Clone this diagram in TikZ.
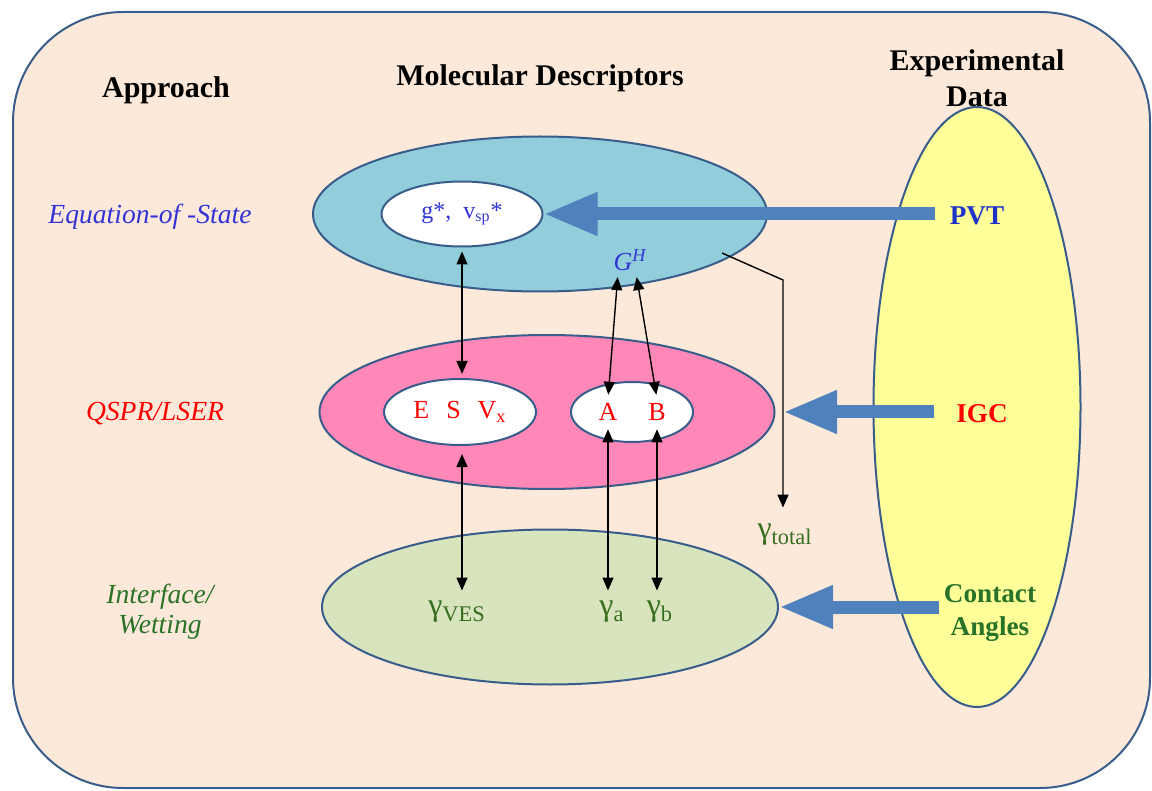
\documentclass[tikz,border=0pt]{standalone}
\usepackage{fontspec}
\setmainfont{Liberation Serif}
\usepackage{tikz}
\usetikzlibrary{shapes.geometric,arrows.meta,calc}
\definecolor{peach}{RGB}{253,233,218}
\definecolor{border}{RGB}{56,93,138}
\definecolor{eosfill}{RGB}{146,205,220}
\definecolor{qsprfill}{RGB}{255,136,184}
\definecolor{wetfill}{RGB}{215,228,189}
\definecolor{expfill}{RGB}{255,255,153}
\definecolor{arrowblue}{RGB}{79,129,189}
\definecolor{eosblue}{RGB}{51,51,214}
\definecolor{pvtblue}{RGB}{30,50,200}
\definecolor{wetgreen}{RGB}{40,115,40}
\definecolor{gammagreen}{RGB}{55,110,30}
\tikzset{
every picture/.style={
line width=0.7pt
},
txt/.style={font=\fontsize{13}{15}\selectfont, inner sep=1pt},
gamma/.style={font=\fontsize{16}{18}\selectfont, text=gammagreen, inner sep=1pt},
header/.style={font=\fontsize{15}{18}\selectfont\bfseries, align=center, inner sep=1pt},
approach/.style={font=\fontsize{13.8}{15}\selectfont\itshape, align=center, inner sep=1pt},
datatxt/.style={font=\fontsize{13.6}{16.5}\selectfont\bfseries, align=center, inner sep=1pt},
bigell/.style={ellipse, draw=border, line width=1pt, inner sep=0pt},
innerell/.style={ellipse, draw=border, fill=white, line width=1pt, inner sep=0pt},
link/.style={{Triangle[length=6.5pt,width=5.5pt]}-{Triangle[length=6.5pt,width=5.5pt]},
  shorten <=2pt, shorten >=2pt},
bigarrow/.style={draw=arrowblue, line width=6.5pt, -{Triangle[length=27pt,width=20pt]}}
}
\begin{document}
\begin{tikzpicture}[x=0.5pt,y=-0.5pt]
  \useasboundingbox (0,0) rectangle (1152,791);
  \draw[border, fill=peach, line width=1pt, rounded corners=55pt] (13,12) rectangle (1150,788);

  % column heads
  \node[header] (approach) at (166,90) {Approach};
  \node[header] (descr) at (540,78) {Molecular Descriptors};
  \node[header] (expdata) at (977,78) {Experimental\\Data};

  % approaches
  \node[approach, text=eosblue] (eosname) at (150,217) {Equation-of -State};
  \node[approach, text=red] (qsprname) at (155,414) {QSPR/LSER};
  \node[approach, text=wetgreen] (wetname) at (160,612) {Interface/\\Wetting};

  % big ellipses
  \node[bigell, fill=eosfill, minimum width=227pt, minimum height=77.5pt] (eos) at (540,214) {};
  \node[bigell, fill=qsprfill, minimum width=227.5pt, minimum height=77pt] (qspr) at (547,412) {};
  \node[bigell, fill=wetfill, minimum width=228pt, minimum height=77.5pt] (wet) at (550,607) {};
  \node[bigell, fill=expfill, minimum width=103.5pt, minimum height=300pt] (exp) at (977,407) {};

  % descriptors
  \node[innerell, minimum width=80.5pt, minimum height=32.5pt, font=\fontsize{12}{14}\selectfont, text=eosblue] (gv) at (462,214) {g*,\ \ v\textsubscript{sp}*};
  \node[txt, text=eosblue, font=\fontsize{13}{15}\selectfont\itshape] (gh) at (630,260) {G\textsuperscript{H}};
  \node[innerell, minimum width=76pt, minimum height=33pt, txt, text=red] (esv) at (460,412) {E\hspace{0.65em}S\hspace{0.65em}V\textsubscript{x}};
  \node[innerell, minimum width=61pt, minimum height=30pt] (ab) at (632,412) {};
  \node[txt, text=red, inner sep=2pt] (a) at (608,412) {A};
  \node[txt, text=red, inner sep=2pt] (b) at (657,412) {B};

  \node[gamma] (gves) at (457,612) {γ\textsubscript{VES}};
  \node[gamma] (ga) at (612,612) {γ\textsubscript{a}};
  \node[gamma] (gb) at (660,612) {γ\textsubscript{b}};
  \node[gamma] (gtot) at (785,535) {γ\textsubscript{total}};

  % experimental data
  \node[datatxt, text=pvtblue] (pvt) at (977,216) {PVT};
  \node[datatxt, text=red] (igc) at (982,414) {IGC};
  \node[datatxt, text=wetgreen] (ca) at (990,613) {Contact\\Angles};

  \coordinate (tstart) at (722,253);
  \coordinate (tbend) at (783,280);

  \draw[bigarrow, shorten <=6pt] (gv.east -| pvt.west) -- (gv.east);
  \draw[bigarrow, shorten <=10pt] (qspr.east -| igc.west) -- (qspr.east -| tbend);
  \draw[bigarrow, shorten <=1pt] (ca.west |- wet.east) -- (wet.east);

  % links
  \draw[link] (gv.south) -- (esv.north -| gv.south);
  \draw[link] ($(gh.south)+(-12,0)$) -- (a.north);
  \draw[link] ($(gh.south)+(6,0)$) -- (b.north);
  \draw[link, shorten <=4pt, shorten >=4pt] (esv.south -| gv.south) -- (gves.north -| gv.south);
  \draw[link, shorten <=2pt, shorten >=4pt] (a.south) -- (ga.north -| a.south);
  \draw[link, shorten <=2pt, shorten >=4pt] (b.south) -- (gb.north -| b.south);

  \draw[-{Triangle[length=6.5pt,width=5.5pt]}, shorten >=7pt] (tstart) -- (tbend) -- (tbend |- gtot.north);
\end{tikzpicture}
\end{document}
